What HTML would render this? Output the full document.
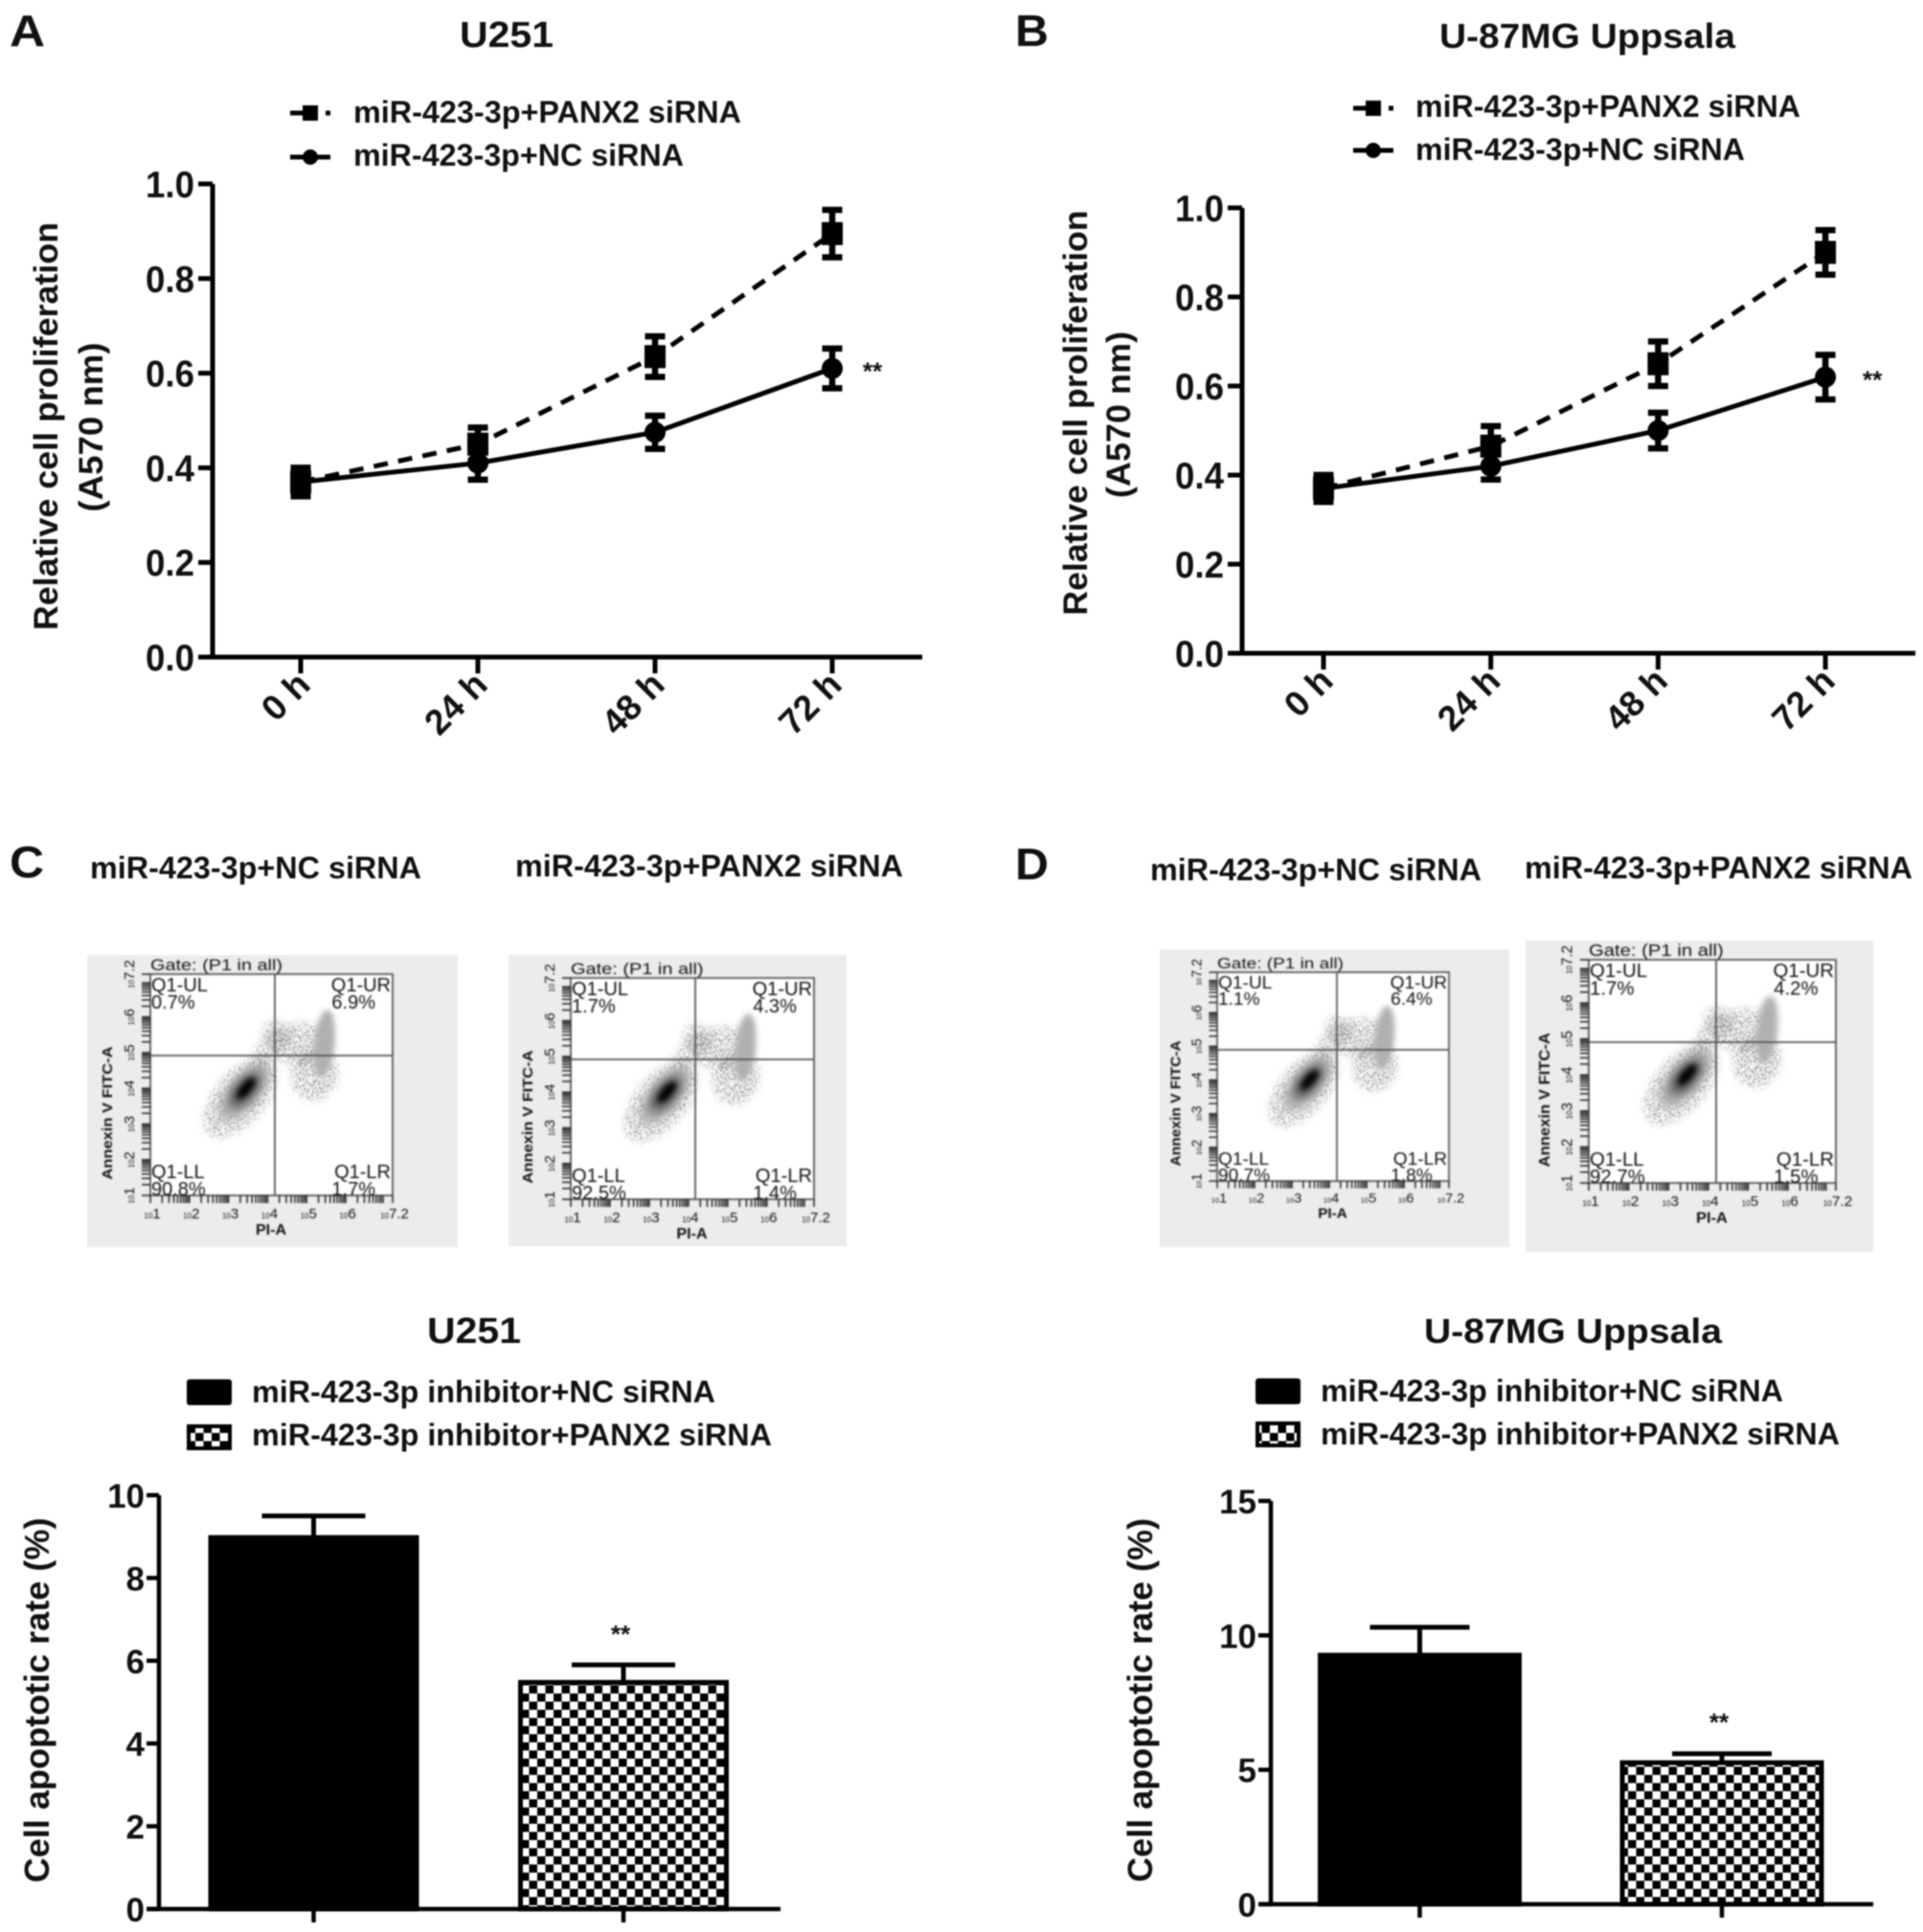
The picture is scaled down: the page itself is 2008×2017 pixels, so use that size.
<!DOCTYPE html>
<html lang="en">
<head>
<meta charset="utf-8">
<title>miR-423-3p and PANX2 siRNA: proliferation and apoptosis</title>
<style>
html,body{margin:0;padding:0;background:#fff;width:2008px;height:2017px;overflow:hidden}
svg{display:block;filter:blur(.9px)}
text{font-family:"Liberation Sans",Arial,sans-serif;fill:#111}
.b{font-weight:bold}
</style>
</head>
<body>
<svg id="fig" xmlns="http://www.w3.org/2000/svg" width="2008" height="2017" viewBox="0 0 2008 2017">
<defs>
<pattern id="checker" width="17" height="17" patternUnits="userSpaceOnUse">
<rect width="17" height="17" fill="#fff"/><rect width="8.5" height="8.5" fill="#000"/><rect x="8.5" y="8.5" width="8.5" height="8.5" fill="#000"/>
</pattern>
<filter id="soft" x="-40%" y="-40%" width="180%" height="180%"><feGaussianBlur stdDeviation="5"/></filter>
<filter id="softer" x="-40%" y="-40%" width="180%" height="180%"><feGaussianBlur stdDeviation="3"/></filter>
<filter id="grain" x="-40%" y="-40%" width="180%" height="180%">
<feGaussianBlur in="SourceGraphic" stdDeviation="4" result="b"/>
<feTurbulence type="fractalNoise" baseFrequency="0.55" numOctaves="2" seed="7" result="n"/>
<feColorMatrix in="n" type="matrix" values="0 0 0 0 0 0 0 0 0 0 0 0 0 0 0 9 0 0 0 -4.6" result="m"/>
<feComposite in="b" in2="m" operator="in"/>
</filter>
</defs>

<text class="b" x="10" y="48" font-size="46" textLength="37" lengthAdjust="spacingAndGlyphs">A</text>
<text class="b" x="1060" y="48" font-size="46" textLength="35" lengthAdjust="spacingAndGlyphs">B</text>
<text class="b" x="10" y="916" font-size="46" textLength="36" lengthAdjust="spacingAndGlyphs">C</text>
<text class="b" x="1060" y="918" font-size="46" textLength="35" lengthAdjust="spacingAndGlyphs">D</text>

<text class="b" x="480" y="49" font-size="38" textLength="98" lengthAdjust="spacingAndGlyphs">U251</text>
<text class="b" x="1503" y="50" font-size="36" textLength="309" lengthAdjust="spacingAndGlyphs">U-87MG Uppsala</text>

<text class="b" x="369" y="128" font-size="32" textLength="405" lengthAdjust="spacingAndGlyphs">miR-423-3p+PANX2 siRNA</text>
<text class="b" x="369" y="173" font-size="32" textLength="345" lengthAdjust="spacingAndGlyphs">miR-423-3p+NC siRNA</text>
<text class="b" x="1478" y="122" font-size="32" textLength="402" lengthAdjust="spacingAndGlyphs">miR-423-3p+PANX2 siRNA</text>
<text class="b" x="1478" y="167" font-size="32" textLength="344" lengthAdjust="spacingAndGlyphs">miR-423-3p+NC siRNA</text>

<text class="b" transform="translate(60,445) rotate(-90)" text-anchor="middle" font-size="35" textLength="426" lengthAdjust="spacingAndGlyphs">Relative cell proliferation</text>
<text class="b" transform="translate(107,446) rotate(-90)" text-anchor="middle" font-size="35" textLength="177" lengthAdjust="spacingAndGlyphs">(A570 nm)</text>
<text class="b" transform="translate(1135,431) rotate(-90)" text-anchor="middle" font-size="35" textLength="423" lengthAdjust="spacingAndGlyphs">Relative cell proliferation</text>
<text class="b" transform="translate(1180,433) rotate(-90)" text-anchor="middle" font-size="35" textLength="174" lengthAdjust="spacingAndGlyphs">(A570 nm)</text>

<text class="b" x="94" y="917" font-size="32" textLength="346" lengthAdjust="spacingAndGlyphs">miR-423-3p+NC siRNA</text>
<text class="b" x="538" y="915" font-size="32" textLength="405" lengthAdjust="spacingAndGlyphs">miR-423-3p+PANX2 siRNA</text>
<text class="b" x="1201" y="919" font-size="32" textLength="346" lengthAdjust="spacingAndGlyphs">miR-423-3p+NC siRNA</text>
<text class="b" x="1592" y="917" font-size="32" textLength="405" lengthAdjust="spacingAndGlyphs">miR-423-3p+PANX2 siRNA</text>

<text class="b" x="446" y="1402" font-size="38" textLength="98" lengthAdjust="spacingAndGlyphs">U251</text>
<text class="b" x="1487" y="1402" font-size="36" textLength="311" lengthAdjust="spacingAndGlyphs">U-87MG Uppsala</text>

<rect x="195" y="1440" width="47" height="27" rx="3" fill="#000"/>
<rect x="197" y="1489" width="43" height="23" fill="url(#checker)" stroke="#000" stroke-width="4"/>
<text class="b" x="263" y="1464" font-size="32" textLength="484" lengthAdjust="spacingAndGlyphs">miR-423-3p inhibitor+NC siRNA</text>
<text class="b" x="263" y="1509" font-size="32" textLength="543" lengthAdjust="spacingAndGlyphs">miR-423-3p inhibitor+PANX2 siRNA</text>
<rect x="1311" y="1439" width="47" height="27" rx="3" fill="#000"/>
<rect x="1313" y="1486" width="43" height="23" fill="url(#checker)" stroke="#000" stroke-width="4"/>
<text class="b" x="1379" y="1463" font-size="32" textLength="483" lengthAdjust="spacingAndGlyphs">miR-423-3p inhibitor+NC siRNA</text>
<text class="b" x="1379" y="1508" font-size="32" textLength="542" lengthAdjust="spacingAndGlyphs">miR-423-3p inhibitor+PANX2 siRNA</text>

<text class="b" transform="translate(51,1775) rotate(-90)" text-anchor="middle" font-size="36" textLength="381" lengthAdjust="spacingAndGlyphs">Cell apoptotic rate (%)</text>
<text class="b" transform="translate(1203,1775) rotate(-90)" text-anchor="middle" font-size="36" textLength="380" lengthAdjust="spacingAndGlyphs">Cell apoptotic rate (%)</text>

<g id="layer"></g>
</svg>

<script>
/* ---------- Line charts (A, B) ---------- */
var timeLabels = ['0 h', '24 h', '48 h', '72 h'];
var lineTicks = [0, 0.2, 0.4, 0.6, 0.8, 1.0];
var aPanx2 = [0.37, 0.45, 0.635, 0.895];
var aPanx2Err = [0.03, 0.035, 0.043, 0.05];
var aNc = [0.37, 0.41, 0.475, 0.61];
var aNcErr = [0.03, 0.035, 0.035, 0.042];
var bPanx2 = [0.37, 0.465, 0.65, 0.90];
var bPanx2Err = [0.03, 0.045, 0.05, 0.05];
var bNc = [0.37, 0.42, 0.50, 0.62];
var bNcErr = [0.03, 0.03, 0.04, 0.05];

/* ---------- Bar charts (C, D) ---------- */
var barGroups = ['miR-423-3p inhibitor+NC siRNA', 'miR-423-3p inhibitor+PANX2 siRNA'];
var cBarTicks = [0, 2, 4, 6, 8, 10];
var cBarValues = [9.0, 5.5];
var cBarErr = [0.5, 0.4];
var dBarTicks = [0, 5, 10, 15];
var dBarValues = [9.3, 5.3];
var dBarErr = [1.0, 0.3];

/* ---------- Flow cytometry ---------- */
var quadrantNames = ['Q1-UL', 'Q1-UR', 'Q1-LL', 'Q1-LR'];
var flowC1Pct = ['0.7%', '6.9%', '90.8%', '1.7%'];
var flowC2Pct = ['1.7%', '4.3%', '92.5%', '1.4%'];
var flowD1Pct = ['1.1%', '6.4%', '90.7%', '1.8%'];
var flowD2Pct = ['1.7%', '4.2%', '92.7%', '1.5%'];
var flowTickExp = [1, 2, 3, 4, 5, 6, 7.2];
var minorLogs = [0.301, 0.477, 0.602, 0.699, 0.778, 0.845, 0.903, 0.954];

var NS = 'http://www.w3.org/2000/svg';
var layer = document.getElementById('layer');
function mk(tag, attrs, parent) {
  var el = document.createElementNS(NS, tag);
  for (var k in attrs) el.setAttribute(k, attrs[k]);
  (parent || layer).appendChild(el);
  return el;
}

function drawLineChart(prefix, g, panx2, panx2Err, nc, ncErr) {
  function xPos(i) { return g.x0 + i * g.dx; }
  function yPos(v) { return g.y0 - v * (g.y0 - g.y1); }
  var el;
  el = mk('path', {d: 'M' + g.axisX + ' ' + g.y1 + 'V' + g.y0 + 'H' + g.axisEnd, fill: 'none', stroke: '#000', 'stroke-width': 5});
  
  
  lineTicks.forEach(function (t) {
    var e = mk('line', {x1: g.axisX - 15, x2: g.axisX, y1: yPos(t), y2: yPos(t), stroke: '#000', 'stroke-width': 5});
    
    
    var l = mk('text', {x: g.axisX - 19, y: yPos(t) + 14, 'text-anchor': 'end', 'font-size': 39, 'class': 'b', textLength: 51, lengthAdjust: 'spacingAndGlyphs'});
    l.textContent = t.toFixed(1);
    
    
  });
  timeLabels.forEach(function (name, i) {
    var e = mk('line', {x1: xPos(i), x2: xPos(i), y1: g.y0, y2: g.y0 + 17, stroke: '#000', 'stroke-width': 5});
    
    
    var l = mk('text', {transform: 'translate(' + (xPos(i) + 12) + ',' + (g.y0 + 31) + ') rotate(-45)', 'text-anchor': 'end', 'font-size': 37, 'class': 'b'});
    l.textContent = name;
    
    
  });
  function series(vals, errs, dashed, square, name) {
    var pts = vals.map(function (v, i) { return xPos(i) + ',' + yPos(v); }).join(' ');
    var line = mk('polyline', {points: pts, fill: 'none', stroke: '#000', 'stroke-width': 5});
    if (dashed) line.setAttribute('stroke-dasharray', '15 11');
    
    
    vals.forEach(function (v, i) {
      var cx = xPos(i), cy = yPos(v), top = yPos(v + errs[i]), bot = yPos(v - errs[i]);
      var bar = mk('path', {d: 'M' + cx + ' ' + top + 'V' + bot + 'M' + (cx - 10.5) + ' ' + top + 'H' + (cx + 10.5) + 'M' + (cx - 10.5) + ' ' + bot + 'H' + (cx + 10.5), fill: 'none', stroke: '#000', 'stroke-width': 6.5});
      
      
      var m = square ? mk('rect', {x: cx - 11, y: cy - 12, width: 22, height: 24, fill: '#000'}) : mk('circle', {cx: cx, cy: cy, r: 11, fill: '#000'});
      
      
    });
  }
  series(panx2, panx2Err, true, true, 'panx2');
  series(nc, ncErr, false, false, 'nc');
  var star = mk('text', {x: xPos(3) + g.starDx, y: yPos(nc[3]) + 12, 'font-size': 26, 'class': 'b', 'text-anchor': 'middle'});
  star.textContent = '**';
  
  
  function legendKey(y, dashed, square, name) {
    var a = mk('line', {x1: g.legX, x2: g.legX + 42, y1: y, y2: y, stroke: '#000', 'stroke-width': 5});
    if (dashed) a.setAttribute('stroke-dasharray', '13 24 5');
    
    
    var m = square ? mk('rect', {x: g.legX + 13, y: y - 8, width: 16, height: 16, fill: '#000'}) : mk('circle', {cx: g.legX + 21, cy: y, r: 8, fill: '#000'});
    
    
  }
  legendKey(g.legY1, true, true, 'panx2');
  legendKey(g.legY2, false, false, 'nc');
}

drawLineChart('chart-a', {x0: 314, dx: 185, y0: 686, y1: 192, axisX: 222, axisEnd: 963, starDx: 42, legX: 303, legY1: 118, legY2: 164}, aPanx2, aPanx2Err, aNc, aNcErr);
drawLineChart('chart-b', {x0: 1382, dx: 174.7, y0: 682, y1: 217, axisX: 1297, axisEnd: 2000, starDx: 49, legX: 1413, legY1: 113, legY2: 157}, bPanx2, bPanx2Err, bNc, bNcErr);

function drawBarChart(prefix, g, ticks, vals, errs, yMax) {
  function yPos(v) { return g.y0 - v / yMax * (g.y0 - g.y1); }
  var el = mk('path', {d: 'M' + g.axisX + ' ' + g.y1 + 'V' + g.y0 + 'M' + (g.axisX - 12) + ' ' + g.y0 + 'H' + g.axisEnd, fill: 'none', stroke: '#000', 'stroke-width': 4.5});
  
  
  ticks.forEach(function (t) {
    var e = mk('line', {x1: g.axisX - 13, x2: g.axisX, y1: yPos(t), y2: yPos(t), stroke: '#000', 'stroke-width': 4.5});
    
    
    var l = mk('text', {x: g.axisX - 15, y: yPos(t) + 13, 'text-anchor': 'end', 'font-size': 35, 'class': 'b'});
    l.textContent = String(t);
    
    
  });
  vals.forEach(function (v, i) {
    var cx = g.cx[i], top = yPos(v), et = yPos(v + errs[i]);
    var eb = mk('path', {d: 'M' + cx + ' ' + top + 'V' + et + 'M' + (cx - g.cap) + ' ' + et + 'H' + (cx + g.cap), fill: 'none', stroke: '#000', 'stroke-width': 5});
    
    
    var bar = mk('rect', {x: cx - g.hw, y: top + 1, width: g.hw * 2, height: g.y0 - top - 1, fill: i === 0 ? '#000' : 'url(#checker)', stroke: '#000', 'stroke-width': 5});
    
    
    var t = mk('line', {x1: cx, x2: cx, y1: g.y0, y2: g.y0 + 14, stroke: '#000', 'stroke-width': 4.5});
    
    
    var title = mk('title', {}, bar);
    title.textContent = barGroups[i];
  });
  var star = mk('text', {x: g.cx[1] - 3, y: yPos(vals[1] + errs[1]) - g.starGap, 'font-size': 26, 'class': 'b', 'text-anchor': 'middle'});
  star.textContent = '**';
  
  
}

drawBarChart('chart-c', {y0: 1993, y1: 1561, axisX: 166, axisEnd: 815, cx: [327.5, 651], hw: 107.5, cap: 54, starGap: 23}, cBarTicks, cBarValues, cBarErr, 10);
drawBarChart('chart-d', {y0: 1988, y1: 1567, axisX: 1327, axisEnd: 1956, cx: [1482.5, 1798], hw: 104, cap: 52, starGap: 24}, dBarTicks, dBarValues, dBarErr, 15);

/* Density regions in decade coordinates: x, y, rx, ry, rotation, shade, style */
var cloudRegions = [
  [3.3, 3.75, 0.65, 1.35, 40, '#888', 'grain'],
  [3.4, 3.9, 0.38, 0.95, 40, '#aaa', 'soft'],
  [3.95, 5.0, 0.28, 0.7, 30, '#999', 'grain'],
  [4.25, 5.5, 0.42, 0.36, 40, '#999', 'grain'],
  [4.85, 5.25, 0.8, 0.6, 0, '#8a8a8a', 'grain'],
  [5.2, 4.4, 0.6, 0.75, 15, '#8a8a8a', 'grain'],
  [5.45, 5.25, 0.26, 0.95, 6, '#b0b0b0', 'softer'],
  [3.42, 3.95, 0.26, 0.58, 40, '#555', 'soft'],
  [3.45, 4.0, 0.13, 0.36, 40, '#000', 'softer']
];

function drawFlow(prefix, g, pct) {
  var sx = g.w / 253, sy = g.h / 231;
  var grey = mk('rect', {x: g.bx, y: g.by, width: g.bw, height: g.bh, fill: '#ececec'});
  
  
  var grp = mk('g', {transform: 'translate(' + g.x + ',' + g.y + ') scale(' + sx + ',' + sy + ')', style: 'filter:blur(.5px)'});
  
  
  function px(d) { return (d - 1) / 6.2 * 253; }
  function py(d) { return 231 - (d - 1) / 6.2 * 231; }
  var area = mk('rect', {x: 0, y: 0, width: 253, height: 231, fill: '#fff'}, grp);
  
  
  cloudRegions.forEach(function (r) {
    var cx = px(r[0] + g.dx), cy = py(r[1] + g.dy);
    var e = mk('ellipse', {cx: cx, cy: cy, rx: r[2] * 40.8, ry: r[3] * 37.3, fill: r[5], transform: 'rotate(' + r[4] + ' ' + cx + ' ' + cy + ')', filter: 'url(#' + r[6] + ')'}, grp);
    
    
  });
  var frame = mk('path', {d: 'M0 0H253V231H0Z M' + (g.vx - g.x) / sx + ' 0V231 M0 ' + (g.hy - g.y) / sy + 'H253', fill: 'none', stroke: '#555', 'stroke-width': 1.8});
  
  
  grp.appendChild(frame);
  function addTicks(d) {
    var x = px(d), y = py(d);
    var a = mk('line', {x1: x, x2: x, y1: 231, y2: 239, stroke: '#222', 'stroke-width': 1.5}, grp);
    
    
    var b = mk('line', {x1: -9, x2: 0, y1: y, y2: y, stroke: '#222', 'stroke-width': 1.5}, grp);
    
    
  }
  flowTickExp.forEach(function (d) {
    addTicks(d);
    if (d < 7) minorLogs.forEach(function (m) { if (d + m < 7.2) addTicks(d + m); });
    var lx = mk('text', {x: px(d) + 2, y: 255, 'text-anchor': 'middle', 'font-size': 15, fill: '#333'}, grp);
    lx.innerHTML = '<tspan font-size="8">10</tspan>' + d;
    
    
    var ly = mk('text', {transform: 'translate(-17,' + py(d) + ') rotate(-90)', 'text-anchor': 'middle', 'font-size': 15, fill: '#333'}, grp);
    ly.innerHTML = '<tspan font-size="8">10</tspan>' + d;
    
    
  });
  var gate = mk('text', {x: 0, y: -4, 'font-size': 17, fill: '#222', textLength: 138, lengthAdjust: 'spacingAndGlyphs'}, grp);
  gate.textContent = 'Gate: (P1 in all)';
  
  
  var slots = [[1, 18, 'start'], [251, 18, 'end'], [1, 213, 'start'], [251, 213, 'end']];
  quadrantNames.forEach(function (q, i) {
    var s = slots[i];
    var t1 = mk('text', {x: s[0], y: s[1], 'text-anchor': s[2], 'font-size': 20, fill: '#666'}, grp);
    t1.textContent = q;
    
    
    var t2 = mk('text', {x: s[2] === 'end' ? s[0] - 16 : s[0], y: s[1] + 18, 'text-anchor': s[2], 'font-size': 20, fill: '#666'}, grp);
    t2.textContent = pct[i];
    
    
  });
  var xl = mk('text', {x: 126, y: 272, 'text-anchor': 'middle', 'font-size': 16, 'class': 'b', fill: '#444'}, grp);
  xl.textContent = 'PI-A';
  
  
  var yl = mk('text', {transform: 'translate(-40,145) rotate(-90)', 'text-anchor': 'middle', 'font-size': 15, 'class': 'b', fill: '#444', textLength: 139, lengthAdjust: 'spacingAndGlyphs'}, grp);
  yl.textContent = 'Annexin V FITC-A';
  
  
}

drawFlow('flow-c-nc', {bx: 91, by: 997, bw: 387, bh: 305, x: 157, y: 1017, w: 253, h: 231, vx: 287, hy: 1102, dx: 0, dy: 0}, flowC1Pct);
drawFlow('flow-c-panx2', {bx: 531, by: 997, bw: 353, bh: 304, x: 596, y: 1021, w: 254, h: 231, vx: 726, hy: 1106, dx: 0, dy: 0}, flowC2Pct);
drawFlow('flow-d-nc', {bx: 1211, by: 991, bw: 365, bh: 311, x: 1271, y: 1015, w: 242, h: 218, vx: 1396, hy: 1096, dx: 0.02, dy: 0}, flowD1Pct);
drawFlow('flow-d-panx2', {bx: 1593, by: 982, bw: 363, bh: 325, x: 1659, y: 1002, w: 258, h: 233, vx: 1792, hy: 1088, dx: 0.02, dy: 0}, flowD2Pct);
</script>
</body>
</html>
